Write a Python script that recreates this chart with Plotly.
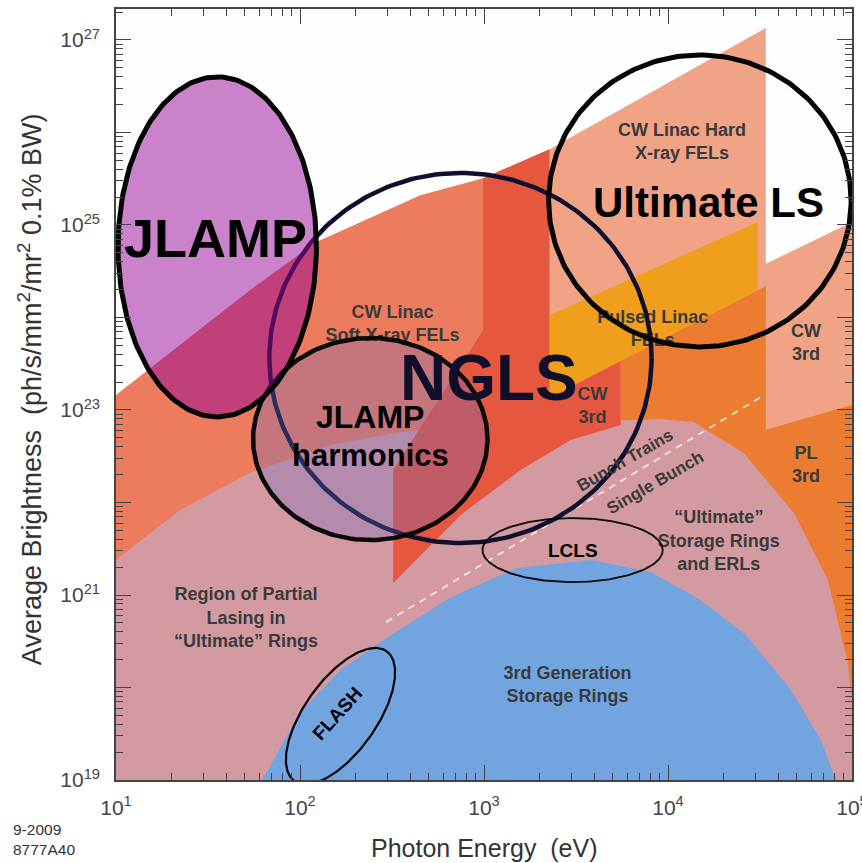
import numpy as np
import plotly.graph_objects as go

# ---------------- data (photon energy in eV, brightness in ph/s/mm2/mr2/0.1%BW) -------------
# CW linac soft X-ray FEL region
soft_fel_E = [10, 22.3, 53.6, 122, 451, 990, 2270, 2270, 10]
soft_fel_B = [1.45e23, 5.05e23, 1.98e24, 6.5e24, 2.1e25, 3.2e25, 6.6e25, 1e19, 1e19]
# CW linac hard X-ray FEL region (incl. CW 3rd harmonic column)
hard_fel_E = [2270, 34000, 34000, 1e5, 1e5, 2270]
hard_fel_B = [6.6e25, 1.35e27, 3.8e24, 1.08e25, 1e19, 1e19]
# pulsed linac FELs band
pulsed_E = [2270, 30800, 30800, 2270]
pulsed_B = [1.06e24, 1.08e25, 1.98e24, 1.35e23]
# pulsed linac 3rd harmonic region
pl3_E = [5530, 34000, 34000, 1e5, 1e5, 5530]
pl3_B = [3.39e23, 2.19e24, 6.1e22, 1.13e23, 1e19, 1e19]
# "ultimate" storage rings and ERLs dome
ring_E = [10, 10, 22.3, 53, 146, 352, 1230, 4300, 9000, 13800, 25800, 48300, 74000, 95000, 1e5, 1e5]
ring_B = [1e19, 2.39e21, 8.3e21, 2.08e22, 4.19e22, 5.8e22, 6.9e22, 7.6e22, 8.0e22, 7.4e22,
          3.43e22, 7.7e21, 1.45e21, 1.84e20, 7.3e19, 1e19]
# CW soft FEL 3rd harmonic region
cw3_E = [990, 2270, 2270, 5530, 5530, 2960, 1580, 745, 321, 321, 990]
cw3_B = [3.2e25, 6.6e25, 1.35e23, 3.39e23, 6.9e22, 4.74e22, 2.24e22, 7.3e21, 1.35e21, 2.24e22, 7.3e23]
# 3rd generation storage rings dome
gen3_E = [62.4, 100, 166, 284, 649, 1500, 3800, 8050, 15100, 26500, 46600, 67700, 81800]
gen3_B = [1e19, 5.4e19, 1.55e20, 3.27e20, 9.3e20, 1.96e21, 2.39e21, 1.77e21, 8.8e20,
          3.7e20, 9.4e19, 2.7e19, 1e19]
# bunch trains / single bunch divider
divider_E = [294, 32000]
divider_B = [5.1e20, 1.38e23]

# facility ellipses: centre and half-widths (in decades)
ell_names = ["NGLS", "JLAMP harmonics", "JLAMP", "Ultimate LS", "LCLS"]
ell_E = [745, 241, 35.5, 14900, 3030]
ell_B = [3.65e23, 4.85e22, 5.8e24, 1.82e25, 3.06e21]
ell_wx = [1.039, 0.637, 0.539, 0.822, 0.490]
ell_wy = [2.0, 1.092, 1.838, 1.578, 0.346]
# FLASH: tilted ellipse, centre and two conjugate half-axes (decades)
flash_E, flash_B = 166, 4.9e19
flash_ax = [0.250, 0.703]
flash_bx = [0.160, -0.224]

# region labels
region_text = ["CW Linac Hard<br>X-ray FELs", "CW Linac<br>Soft X-ray FELs", "Pulsed Linac<br>FELs",
               "CW<br>3rd", "CW<br>3rd", "PL<br>3rd",
               "“Ultimate”<br>Storage Rings<br>and ERLs",
               "Region of Partial<br>Lasing in<br>“Ultimate” Rings",
               "3rd Generation<br>Storage Rings"]
region_E = [11900, 318, 8260, 3890, 56200, 56200, 18900, 50.9, 2840]
region_B = [7.7e25, 8.3e23, 7.3e23, 1.08e23, 5.2e23, 2.48e22, 3.74e21, 5.5e20, 1.04e20]

rot_text = ["Bunch Trains", "Single Bunch"]
rot_E = [5820, 8570]
rot_B = [2.88e22, 1.63e22]

x_tick_exp = [1, 2, 3, 4, 5]
y_tick_exp = [19, 20, 21, 22, 23, 24, 25, 26, 27]
y_label_exp = [19, 21, 23, 25, 27]

FONT = "Liberation Sans, Arial, Helvetica, sans-serif"

fig = go.Figure()


def region(E, B, color):
    fig.add_trace(go.Scatter(x=E, y=B, mode="lines", fill="toself", fillcolor=color,
                             line=dict(width=0, color=color), hoverinfo="skip", showlegend=False))


region(soft_fel_E, soft_fel_B, "#ED7B5D")
region(hard_fel_E, hard_fel_B, "#F1A386")
region(pulsed_E, pulsed_B, "#F09F1C")
region(pl3_E, pl3_B, "#EC7C30")
region(ring_E, ring_B, "#D49AA1")
region(cw3_E, cw3_B, "#E5573F")
region(gen3_E, gen3_B, "#72A5E0")

fig.add_trace(go.Scatter(x=divider_E, y=divider_B, mode="lines",
                         line=dict(color="rgba(255,255,255,0.8)", width=1.6, dash="7px,6px"),
                         hoverinfo="skip", showlegend=False))

# region labels (below the facility ellipses)
fig.add_trace(go.Scatter(x=region_E, y=region_B, mode="text", text=region_text,
                         textposition="middle center",
                         textfont=dict(family=FONT, size=18, color="#3a3a3a", weight="bold"),
                         hoverinfo="skip", showlegend=False))

t = np.linspace(0, 2 * np.pi, 241)


def ellipse(i, line_color, width, fill=None):
    lx = np.log10(ell_E[i]) + ell_wx[i] * np.cos(t)
    ly = np.log10(ell_B[i]) + ell_wy[i] * np.sin(t)
    fig.add_trace(go.Scatter(x=10.0 ** lx, y=10.0 ** ly, mode="lines",
                             line=dict(color=line_color, width=width),
                             fill="toself" if fill else None, fillcolor=fill,
                             hoverinfo="skip", showlegend=False))


ellipse(0, "#10102e", 4.5)
ellipse(1, "#0a0a0a", 4.5, "rgba(105,105,200,0.30)")
ellipse(2, "#050505", 5, "rgba(150,5,150,0.50)")
ellipse(3, "#050505", 5)
ellipse(4, "#050505", 1.8)

fx = np.log10(flash_E) + flash_ax[0] * np.cos(t) + flash_bx[0] * np.sin(t)
fy = np.log10(flash_B) + flash_ax[1] * np.cos(t) + flash_bx[1] * np.sin(t)
fig.add_trace(go.Scatter(x=10.0 ** fx, y=10.0 ** fy, mode="lines", line=dict(color="#050505", width=2.2),
                         hoverinfo="skip", showlegend=False))

# big facility labels
big = [("JLAMP", 34.6, 7.2e24, 54, "#000000", 0),
       ("NGLS", 1060, 2.2e23, 64, "#0f0f2c", 0),
       ("Ultimate LS", 16700, 1.77e25, 42, "#000000", 0),
       ("JLAMP", 241, 8.4e22, 32, "#000000", 0),
       ("harmonics", 241, 3.25e22, 31, "#000000", 0),
       ("LCLS", 3030, 3.06e21, 19, "#000000", 0),
       ("FLASH", 160, 5.2e19, 19, "#000000", -48)]
for txt, e, b, size, col, ang in big:
    fig.add_annotation(x=np.log10(e), y=np.log10(b), xref="x", yref="y", text=txt, showarrow=False,
                       textangle=ang, font=dict(family=FONT, size=size, color=col, weight="bold"))

for txt, e, b in zip(rot_text, rot_E, rot_B):
    fig.add_annotation(x=np.log10(e), y=np.log10(b), xref="x", yref="y", text=txt, showarrow=False,
                       textangle=-30, font=dict(family=FONT, size=17, color="#3a3a3a", weight="bold"))

# axis titles and footer
fig.add_annotation(x=0.5, y=-0.088, xref="paper", yref="paper", text="Photon Energy  (eV)",
                   xanchor="center", yanchor="middle",
                   showarrow=False, font=dict(family=FONT, size=25, color="#333333"))
fig.add_annotation(x=-0.1168, y=0.507, xref="paper", yref="paper",
                   text="Average Brightness  (ph/s/mm<sup>2</sup>/mr<sup>2</sup> 0.1% BW)",
                   xanchor="center", yanchor="middle",
                   textangle=-90, showarrow=False, font=dict(family=FONT, size=27, color="#333333"))
fig.add_annotation(x=-0.143, y=-0.0775, xref="paper", yref="paper", text="9-2009<br>8777A40",
                   xanchor="left", yanchor="middle", showarrow=False, align="left",
                   font=dict(family=FONT, size=15.5, color="#333333"))

axis_common = dict(type="log", showgrid=False, zeroline=False, showline=True, linecolor="#444444",
                   linewidth=1.5, mirror="allticks", ticks="inside", tickcolor="#444444",
                   tickwidth=1.2, tickfont=dict(family=FONT, size=21, color="#444444"),
                   ticklabeloverflow="allow", automargin=False,
                   minor=dict(ticks="inside", ticklen=7, tickcolor="#444444", tickwidth=1,
                              dtick="D1", showgrid=False))

fig.update_xaxes(**axis_common, range=[1, 5], tickmode="array",
                 tickvals=[10.0 ** k for k in x_tick_exp],
                 ticktext=[f"10<sup>{k}</sup>" for k in x_tick_exp], ticklen=15,
                 ticklabelstandoff=8)
fig.update_yaxes(**axis_common, range=[19, 27.335], tickmode="array",
                 tickvals=[10.0 ** k for k in y_tick_exp],
                 ticktext=[f"10<sup>{k}</sup>" if k in y_label_exp else "" for k in y_tick_exp],
                 ticklen=15, ticklabelstandoff=10)

fig.update_layout(width=862, height=863, margin=dict(l=116, r=10, t=9, b=83, autoexpand=False),
                  plot_bgcolor="#FEFEFE", paper_bgcolor="#FFFFFF", showlegend=False,
                  font=dict(family=FONT))

# remove the default page margin so the figure fills the window exactly
fig.write_html("out.html", config={"displayModeBar": False},
               post_script="document.body.style.margin='0';document.body.style.overflow='hidden';")
